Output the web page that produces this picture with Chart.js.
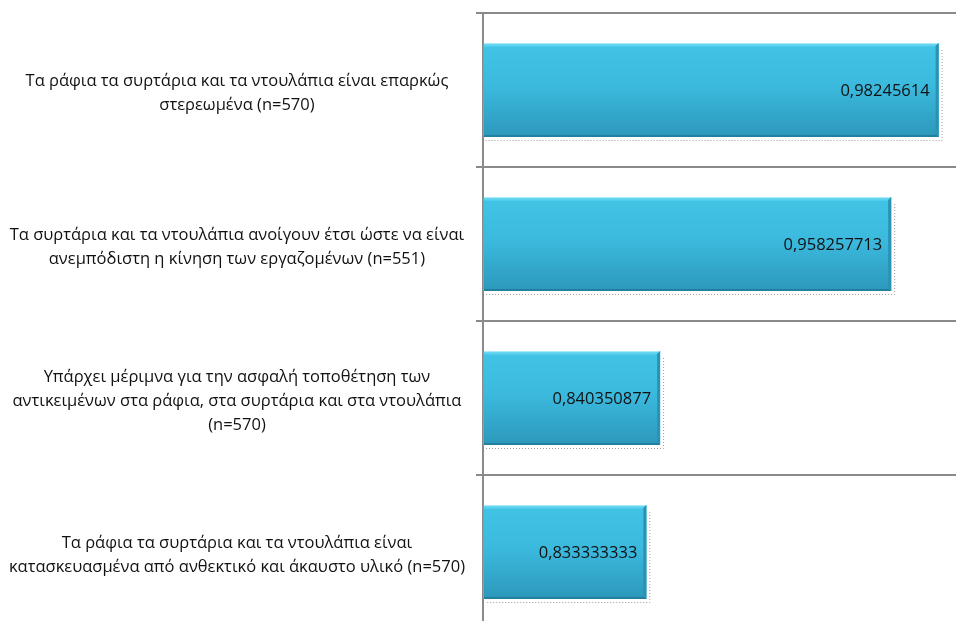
<!DOCTYPE html>
<html>
<head>
<meta charset="utf-8">
<script src="https://cdn.jsdelivr.net/npm/chart.js@4.4.0/dist/chart.umd.min.js"></script>
<style>
html,body{margin:0;padding:0;background:#fff;overflow:hidden;}
#wrap{width:956px;height:621px;overflow:hidden;position:relative;}
canvas{display:block;}
</style>
</head>
<body>
<div id="wrap"><canvas id="c" width="973" height="629"></canvas></div>
<script>
const categories = [
  ["Τα ράφια τα συρτάρια και τα ντουλάπια είναι επαρκώς", "στερεωμένα (n=570)"],
  ["Τα συρτάρια και τα ντουλάπια ανοίγουν έτσι ώστε να είναι", "ανεμπόδιστη η κίνηση των εργαζομένων (n=551)"],
  ["Υπάρχει μέριμνα για την ασφαλή τοποθέτηση των", "αντικειμένων στα ράφια, στα συρτάρια και στα ντουλάπια", "(n=570)"],
  ["Τα ράφια τα συρτάρια και τα ντουλάπια είναι", "κατασκευασμένα από ανθεκτικό και άκαυστο υλικό (n=570)"]
];
const values = [0.98245614, 0.958257713, 0.840350877, 0.833333333];
const valueLabels = ["0,98245614", "0,958257713", "0,840350877", "0,833333333"];
const axisMin = 0.75;
const axisMax = 1.0;

const barStyle = {
  id: 'barStyle',
  afterDatasetsDraw(chart) {
    const ctx = chart.ctx;
    const meta = chart.getDatasetMeta(0);
    meta.data.forEach((bar, i) => {
      const p = bar.getProps(['x', 'y', 'base', 'height'], true);
      const left = Math.min(p.base, p.x) + 1;
      const right = Math.max(p.base, p.x);
      const top = p.y - p.height / 2;
      const bottom = p.y + p.height / 2;
      const w = right - left, h = bottom - top;
      ctx.save();
      // dotted shadow
      ctx.strokeStyle = '#9a9a9a';
      ctx.lineWidth = 1;
      ctx.setLineDash([1, 2]);
      ctx.beginPath();
      ctx.moveTo(right + 3.5, top + 7);
      ctx.lineTo(right + 3.5, bottom + 3.5);
      ctx.lineTo(left + 1, bottom + 3.5);
      ctx.stroke();
      ctx.setLineDash([]);
      // body gradient
      const g = ctx.createLinearGradient(0, top, 0, bottom);
      g.addColorStop(0, '#42c4e6');
      g.addColorStop(0.45, '#3bbade');
      g.addColorStop(1, '#2c98bb');
      ctx.fillStyle = g;
      ctx.fillRect(left, top, w, h);
      // top bevel
      const b = 4;
      const gt = ctx.createLinearGradient(0, top, 0, top + b);
      gt.addColorStop(0, '#d3f5fc');
      gt.addColorStop(0.3, '#6ad8f2');
      gt.addColorStop(1, '#48c8e9');
      ctx.fillStyle = gt;
      ctx.beginPath();
      ctx.moveTo(left, top); ctx.lineTo(right, top); ctx.lineTo(right - b, top + b); ctx.lineTo(left, top + b); ctx.closePath();
      ctx.fill();
      // right bevel
      ctx.fillStyle = '#2b92b4';
      ctx.beginPath();
      ctx.moveTo(right, top); ctx.lineTo(right, bottom); ctx.lineTo(right - 3, bottom - 2); ctx.lineTo(right - 3, top + 3); ctx.closePath();
      ctx.fill();
      // bottom bevel
      ctx.fillStyle = '#21809f';
      ctx.beginPath();
      ctx.moveTo(left, bottom); ctx.lineTo(right, bottom); ctx.lineTo(right - 2, bottom - 2); ctx.lineTo(left, bottom - 2); ctx.closePath();
      ctx.fill();
      // value label
      ctx.fillStyle = '#111';
      ctx.font = '16.5px "Open Sans"';
      ctx.textAlign = 'right';
      ctx.textBaseline = 'middle';
      ctx.fillText(valueLabels[i], right - 9, p.y + 1);
      ctx.restore();
    });
  }
};

new Chart(document.getElementById('c'), {
  type: 'bar',
  data: {
    labels: categories,
    datasets: [{
      data: values,
      base: axisMin,
      backgroundColor: '#3bbade',
      borderWidth: 0,
      barPercentage: 0.61,
      categoryPercentage: 1.0
    }]
  },
  options: {
    indexAxis: 'y',
    responsive: false,
    animation: false,
    devicePixelRatio: 1,
    layout: { padding: { top: 13, right: 0, bottom: 0, left: 0 } },
    plugins: { legend: { display: false }, tooltip: { enabled: false } },
    scales: {
      x: {
        display: false,
        min: axisMin,
        max: axisMax
      },
      y: {
        afterFit(scale) { scale.width = 483; scale.paddingTop = 0; scale.paddingBottom = 0; },
        grid: {
          offset: true,
          color: '#8a8a8a',
          lineWidth: 2,
          tickLength: 7,
          drawOnChartArea: true
        },
        border: { display: true, color: '#8a8a8a', width: 2 },
        ticks: {
          crossAlign: 'center',
          padding: 11,
          labelOffset: 3,
          color: '#111',
          font: { family: 'Open Sans', size: 16.5, lineHeight: 1.45 }
        }
      }
    }
  },
  plugins: [barStyle]
});
</script>
</body>
</html>
